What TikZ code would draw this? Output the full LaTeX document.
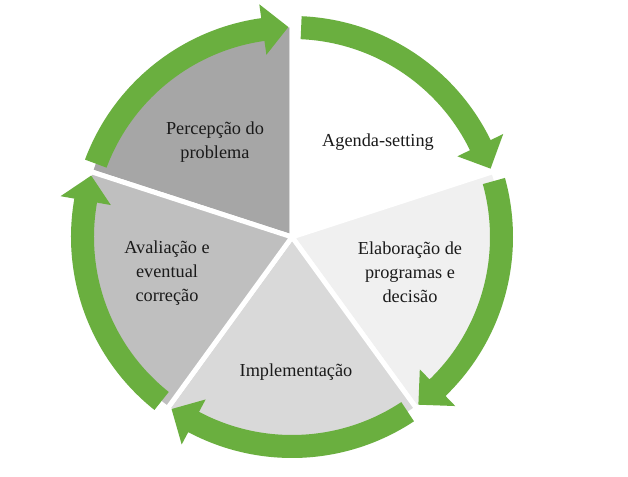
\documentclass[tikz,border=0pt]{standalone}
\usepackage{fontspec}
\setmainfont{Liberation Serif}

\definecolor{cyclegreen}{HTML}{6AAF3F}
\definecolor{percgray}{HTML}{A6A6A6}
\definecolor{avalgray}{HTML}{BFBFBF}
\definecolor{implgray}{HTML}{D9D9D9}
\definecolor{elabgray}{HTML}{F0F0F0}
\definecolor{labeltext}{HTML}{1A1A1A}

\begin{document}
\begin{tikzpicture}[x=0.025cm,y=0.025cm]
  % Estilos do ciclo
  \tikzset{
    sector/.style={draw=white,line width=3.5pt,line join=round},
    green_arrow/.style={fill=cyclegreen},
    stage_label/.style={align=center,text=labeltext,font=\fontsize{13}{17}\selectfont}
  }

  % Fundo e margens
  \fill[white] (-292,-240) rectangle (336,237);

  % Setores (do angulo menor ao maior)
  \foreach \a/\c in {90/percgray,18/white,-54/elabgray,-126/implgray,-198/avalgray}
    \filldraw[sector,fill=\c] (0,0) -- (\a:212) arc[start angle=\a,end angle=\a+72,radius=212] -- cycle;

  % Setas verdes no sentido horario
  \foreach \a in {90,18,-54,-126,-198}{
    \pgfmathsetmacro\s{\a+69.5}
    \pgfmathsetmacro\b{\a+8}
    \pgfmathsetmacro\t{\a+1}
    \fill[green_arrow] (\s:221) arc[start angle=\s,end angle=\b,radius=221]
      -- (\b:235) -- (\t:210) -- (\b:184) -- (\b:198)
      arc[start angle=\b,end angle=\s,radius=198] -- cycle;
  }

  % Rotulos das etapas
  \node[stage_label] (perc) at (-77,95) {Percepção do\\problema};
  \node[stage_label] (agenda) at (86,95) {Agenda-setting};
  \node[stage_label] (elab) at (118,-35) {Elaboração de\\programas e\\decisão};
  \node[stage_label] (impl) at (4,-135) {Implementação};
  \node[stage_label] (aval) at (-125,-36) {Avaliação e\\eventual\\correção};
\end{tikzpicture}
\end{document}
